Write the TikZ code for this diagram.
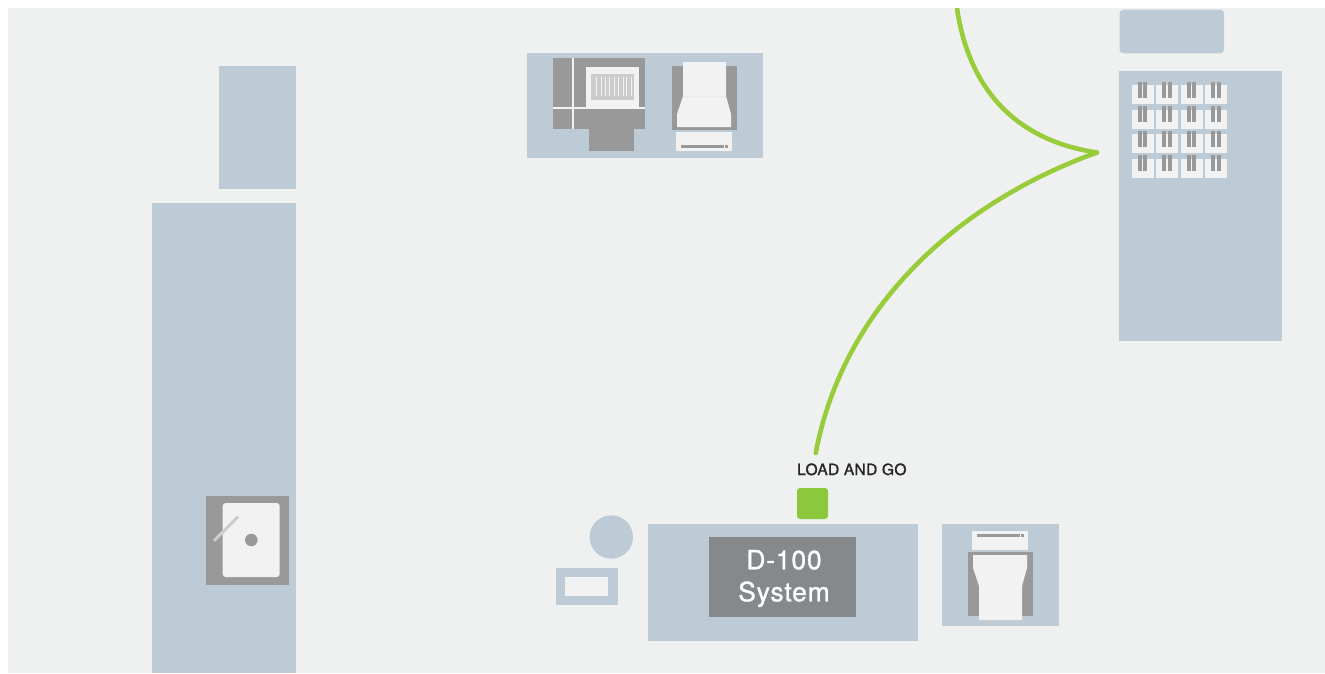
\documentclass[tikz,border=0pt]{standalone}
\usepackage{fontspec}
\setmainfont{TeX Gyre Heros}
\newfontfamily\lblfont{TeX Gyre Heros}[FakeBold=1.2,LetterSpace=2.2]
\newfontfamily\sysfont{TeX Gyre Heros}[FakeBold=1,LetterSpace=3]
\definecolor{bgc}{HTML}{EFF1F1}
\definecolor{panelc}{HTML}{BCCBD5}
\definecolor{greyc}{HTML}{999999}
\definecolor{whitec}{HTML}{F2F2F2}
\definecolor{lightc}{HTML}{CCCCCC}
\definecolor{darkc}{HTML}{85898C}
\definecolor{greenc}{HTML}{8CC83C}
\definecolor{routec}{HTML}{98CC3A}
\tikzset{
  panel/.style={fill=panelc},
  greyp/.style={fill=greyc},
  whitep/.style={fill=whitec},
  lightp/.style={fill=lightc},
  route/.style={draw=routec,line width=4.6pt,line cap=round}
}
\begin{document}
\begin{tikzpicture}[x=1pt,y=-1pt]
\useasboundingbox (0,0) rectangle (1325,673);
\fill[white] (0,0) rectangle (1325,673);
\fill[fill=bgc] (8,8) rectangle (1325,673);
% left column
\fill[panel] (219,66) rectangle (296,189);
\fill[panel] (152,203) rectangle (296,673);
\fill[greyp] (206,496) rectangle (289,585);
\fill[whitep,rounded corners=3pt] (222.7,503) rectangle (279.7,577);
\fill[greyp] (251.3,540) circle (6.3);
\draw[lightc,line width=3pt] (214,540.7) -- (238,516.7);
% top device group
\fill[panel] (527,53) rectangle (763,158);
\fill[greyp] (553,58) rectangle (645,129);
\fill[greyp] (589,129) rectangle (634,151);
\fill[whitep] (572,58) rectangle (574,129);
\fill[whitep] (553,107) rectangle (645,109);
\fill[whitep] (586,67) rectangle (639,107);
\fill[lightp] (591,74) rectangle (634,100);
\foreach \x in {596.3,601,605.3,609.7,614.3,618.7,623,626.9,631.3}
  \fill[whitep] (\x-0.5,77) rectangle (\x+0.5,96);
\fill[greyp] (672,66) rectangle (737,130);
\fill[whitep] (683,62) -- (726,62) -- (726,96) -- (731,114) -- (731,127) -- (677,127) -- (677,114) -- (683,96) -- cycle;
\draw[black!8,line width=0.6pt] (683,96) -- (726,96);
\fill[whitep] (676,132) rectangle (732,151);
\fill[greyp] (681,145) rectangle (724,148);
\fill[greyp] (725,145) rectangle (728,148);
% right rack
\fill[panel,rounded corners=3.5pt] (1119.7,9.7) rectangle (1224,53.3);
\fill[panel] (1119,71) rectangle (1282,341);
\foreach \ya/\yb/\yc/\yd in {85/104/82/98,110/129/106/122,134/153/131/147,159/178/155/171}{
  \foreach \xa/\xb/\ba/\bb/\bc/\bd in {1132/1154/1138/1142/1143/1147,1156/1178/1162/1166/1168/1172,1181/1203/1187/1191/1192/1196,1205/1227/1211/1215/1217/1221}{
    \fill[whitep] (\xa,\ya) rectangle (\xb,\yb);
    \fill[greyp] (\ba,\yc) rectangle (\bb,\yd);
    \fill[greyp] (\bc,\yc) rectangle (\bd,\yd);
  }
}
% D-100 group
\fill[panel] (648,524) rectangle (918,641);
\node[fill=darkc,minimum width=147pt,minimum height=80pt,inner sep=0pt,outer sep=0pt] (sys) at (782.5,577) {};
\node[inner sep=0pt,text=white,font=\sysfont\fontsize{26.5}{32}\selectfont,align=center] (systext) at (784,578.5) {D-100\\System};
\node[fill=greenc,rounded corners=3pt,minimum width=31pt,minimum height=31pt,inner sep=0pt,outer sep=0pt] (go) at (812.5,503.5) {};
\node[anchor=base west,inner sep=0pt,font=\lblfont\fontsize{15.5}{15.5}\selectfont,text=black!85] (lbl) at (797,475) {LOAD AND GO};
\fill[panel] (611.3,537) circle (21.7);
\fill[panel] (556,568) rectangle (618,605);
\fill[whitep] (565,577) rectangle (608,596);
% printer right
\fill[panel] (942,524) rectangle (1059,626);
\fill[whitep] (972,531) rectangle (1028,550);
\fill[greyp] (977,534) rectangle (1020,537);
\fill[greyp] (1021,534) rectangle (1024,537);
\fill[greyp] (968,552) rectangle (1033,616);
\fill[whitep] (973,555) -- (1027,555) -- (1027,568) -- (1022,586) -- (1022,620) -- (979,620) -- (979,586) -- (973,568) -- cycle;
% routes
\coordinate (tip) at (1097,152.5);
\coordinate (topend) at (957,8);
\coordinate (loadend) at (815.7,453);
\begin{scope}
\clip (8,8) rectangle (1325,673);
\draw[route] (topend) .. controls (968,85) and (1012,140) .. (tip);
\draw[route] (loadend) .. controls (845,300) and (965,200) .. (tip);
\end{scope}
\end{tikzpicture}
\end{document}
